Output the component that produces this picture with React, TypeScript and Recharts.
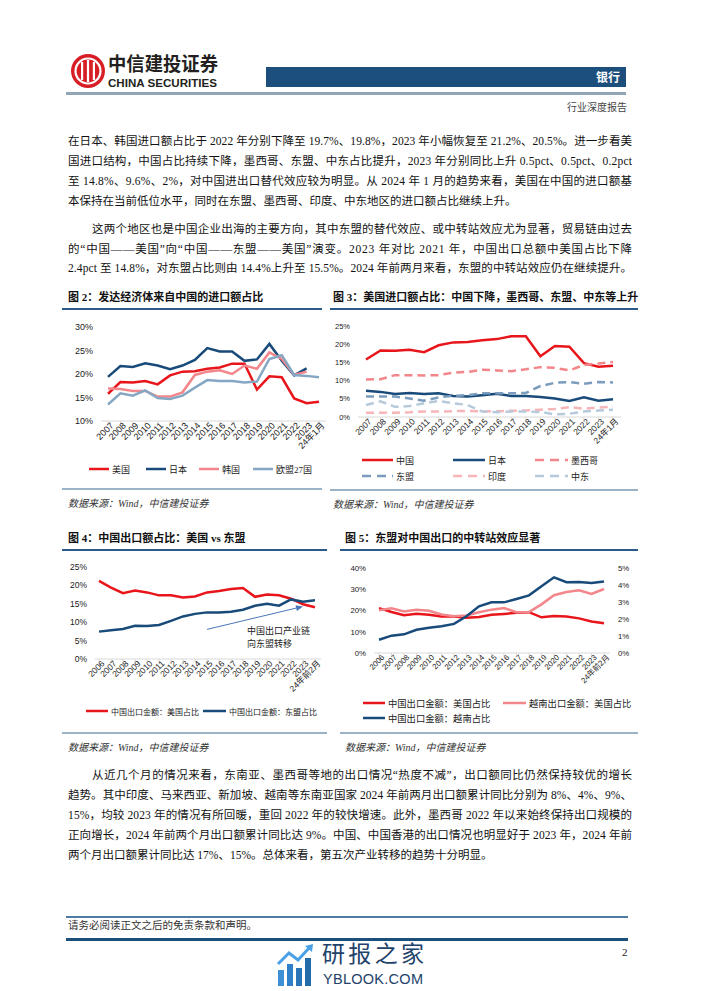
import { LineChart, Line, XAxis, YAxis, ReferenceLine } from 'recharts'

// ── Data ───────────────────────────────────────────────────────────────────────

const cats07 = ['2007','2008','2009','2010','2011','2012','2013','2014','2015','2016','2017','2018','2019','2020','2021','2022','2023','24年1月']
const cats06 = ['2006','2007','2008','2009','2010','2011','2012','2013','2014','2015','2016','2017','2018','2019','2020','2021','2022','2023','24年前2月']

// 图2 / 图3: share of imports coming from China (%)
const usFromChina = [15.8,18.3,18.2,18.5,17.8,19.7,20.5,20.6,21.1,21.4,22.2,22.2,16.7,19.5,19.3,14.8,13.8,14.1]
const jpFromChina = [19.4,21.7,21.5,22.3,21.8,21.0,21.8,23.0,25.5,24.8,24.8,22.8,23.1,26.4,22.8,19.7,21.2,null]
const krFromChina = [16.9,16.8,16.4,16.4,15.2,15.2,16.1,19.8,20.5,20.8,20.0,21.8,21.1,24.6,23.2,19.8,20.5,null]
const euFromChina = [13.5,15.9,15.4,16.5,14.9,14.7,15.4,17.1,18.7,18.5,18.5,18.2,18.4,23.2,24.0,19.8,19.6,19.3]

// 图3: US import shares by origin (%)
const usFromJapan  = [7.2,6.9,6.3,6.6,6.3,6.5,5.8,5.6,6.0,6.4,5.8,5.8,5.5,5.1,4.4,5.4,4.5,4.9]
const usFromMexico = [10.3,10.4,11.5,11.5,11.4,11.5,12.2,12.4,13.0,12.8,12.6,13.1,13.7,13.5,12.8,14.3,14.7,15.1]
const usFromAsean  = [5.6,5.6,5.6,5.1,4.5,5.4,5.8,6.0,6.5,6.5,6.5,6.6,8.5,9.4,9.6,9.1,9.6,9.5]
const usFromIndia  = [1.2,1.2,1.2,1.3,1.5,1.5,1.6,1.7,1.5,1.6,1.7,1.8,2.0,2.2,2.7,2.3,2.6,2.8]
const usFromMideast = [3.3,4.3,2.8,3.0,3.8,4.4,3.8,3.3,1.5,1.3,1.5,1.5,1.4,0.7,0.9,1.5,1.8,2.0]

// 图4 / 图5: China / Vietnam exports (%)
const cnExpUsShare    = [21.1,19.3,17.8,18.5,18.0,17.2,17.2,16.6,16.9,18.0,18.4,18.9,19.2,16.8,17.4,17.2,16.3,14.8,14.0]
const cnExpAseanShare = [7.4,7.8,8.1,9.0,8.9,9.2,10.3,11.5,12.2,12.6,12.6,12.8,13.3,14.4,14.9,14.4,16.1,15.5,15.9]
const vnExpUsShare    = [20.1,21.0,19.5,20.3,19.9,18.1,17.3,17.7,19.2,20.4,21.2,19.2,19.3,22.9,27.2,28.7,29.5,27.8,30.1]
const cnExpVnShare    = [0.78,1.02,1.10,1.37,1.49,1.57,1.71,2.16,2.75,2.98,2.98,3.18,3.39,3.92,4.45,4.16,4.18,4.12,4.20]

const fig2Ticks = [10, 15, 20, 25, 30]
const fig3Ticks = [0, 5, 10, 15, 20, 25]
const fig4Ticks = [0, 5, 10, 15, 20, 25]
const fig5LeftTicks = [0, 10, 20, 30, 40]
const fig5RightTicks = [0, 1, 2, 3, 4, 5]

const fig2Data = cats07.map((c, i) => ({ cat: c, us: usFromChina[i], jp: jpFromChina[i], kr: krFromChina[i], eu: euFromChina[i] }))
const fig3Data = cats07.map((c, i) => ({
  cat: c, cn: usFromChina[i], jp: usFromJapan[i], mx: usFromMexico[i],
  asean: usFromAsean[i], india: usFromIndia[i], me: usFromMideast[i],
}))
const fig4Data = cats06.map((c, i) => ({ cat: c, us: cnExpUsShare[i], asean: cnExpAseanShare[i] }))
const fig5Data = cats06.map((c, i) => ({ cat: c, cnus: cnExpUsShare[i], vnus: vnExpUsShare[i], cnvn: cnExpVnShare[i] }))

// ── Styles ─────────────────────────────────────────────────────────────────────

const SANS = '"Liberation Sans", Arial, "Noto Sans CJK SC", sans-serif'
const BODY = '"Liberation Serif", "Noto Sans CJK SC", serif'
const CJK = '"Noto Sans CJK SC", sans-serif'

const RED = '#e8151b'
const NAVY = '#184a7a'
const PINK = '#f3868b'
const GREYBLUE = '#86a7c3'
const ASEAN_C = '#7b9cbc'
const INDIA_C = '#f6b6b9'
const ME_C = '#b7cadc'
const RULE = '#2b5a88'
const SEP = '#9cb2c6'
const AXIS = '#d9d9d9'

const pct = (v: number) => `${v}%`

// ── Helpers ────────────────────────────────────────────────────────────────────

// eslint-disable-next-line @typescript-eslint/no-explicit-any
function RotTick({ x, y, payload, size }: any) {
  return (
    <g transform={`translate(${x + 4},${y - 2})`}>
      <text x={0} y={0} dy="0.35em" textAnchor="end" transform="rotate(-45)" fontSize={size} fill="#222" fontFamily={SANS}>
        {payload.value}
      </text>
    </g>
  )
}

// eslint-disable-next-line @typescript-eslint/no-explicit-any
function ArrowShape(props: any) {
  const { x1, y1, x2, y2, stroke } = props
  const ang = Math.atan2(y2 - y1, x2 - x1)
  const L = 7, W = 3
  const bx = x2 - L * Math.cos(ang), by = y2 - L * Math.sin(ang)
  const px = -Math.sin(ang) * W, py = Math.cos(ang) * W
  return (
    <g>
      <line x1={x1} y1={y1} x2={bx} y2={by} stroke={stroke} strokeWidth={1} />
      <polygon points={`${x2},${y2} ${bx + px},${by + py} ${bx - px},${by - py}`} fill={stroke} />
    </g>
  )
}

function TextLine({ x, y, w, text, justify = true, size = 11.5 }: { x: number; y: number; w: number; text: string; justify?: boolean; size?: number }) {
  return (
    <svg style={{ position: 'absolute', left: x, top: y - 10, overflow: 'visible' }} width={w} height={20}>
      <text
        x={0}
        y={10}
        dominantBaseline="central"
        fontSize={size}
        fontFamily={BODY}
        fill="#111"
        {...(justify ? { textLength: w, lengthAdjust: 'spacing' } : {})}
      >
        {text}
      </text>
    </svg>
  )
}

function Key({ x, y, color, label, dash, len = 20, size = 9 }: { x: number; y: number; color: string; label: string; dash?: string; len?: number; size?: number }) {
  return (
    <div style={{ position: 'absolute', left: x, top: y - 8, height: 16, display: 'flex', alignItems: 'center', whiteSpace: 'nowrap' }}>
      <svg width={len} height={6}>
        <line x1={0} y1={3} x2={len} y2={3} stroke={color} strokeWidth={2.5} strokeDasharray={dash} />
      </svg>
      <span style={{ marginLeft: 3, fontSize: size, fontFamily: BODY, color: '#222' }}>{label}</span>
    </div>
  )
}

function Title({ x, y, text, ruleX, ruleW }: { x: number; y: number; text: string; ruleX: number; ruleW: number }) {
  return (
    <>
      <div style={{ position: 'absolute', left: x, top: y - 8, fontSize: 11, fontWeight: 700, fontFamily: BODY, color: '#111', whiteSpace: 'nowrap', lineHeight: '16px' }}>
        {text}
      </div>
      <div style={{ position: 'absolute', left: ruleX, top: y + 11, width: ruleW, height: 1.5, background: RULE }} />
    </>
  )
}

function Source({ x, y, ruleX, ruleW }: { x: number; y: number; ruleX: number; ruleW: number }) {
  return (
    <>
      <div style={{ position: 'absolute', left: ruleX, top: y - 10, width: ruleW, height: 1.5, background: SEP }} />
      <div style={{ position: 'absolute', left: x, top: y - 1, fontSize: 10, fontStyle: 'italic', fontFamily: BODY, color: '#333', whiteSpace: 'nowrap', lineHeight: '14px' }}>
        数据来源：Wind，中信建投证券
      </div>
    </>
  )
}

// ── Page ───────────────────────────────────────────────────────────────────────

export default function App() {
  const L = 68
  const W = 564
  const IND = 24
  return (
    <div style={{ position: 'absolute', left: 0, top: 0, width: 702, height: 991, background: '#fff', overflow: 'hidden', fontFamily: BODY }}>
      {/* Header */}
      <svg style={{ position: 'absolute', left: 70, top: 53 }} width={36} height={36}>
        <circle cx={18} cy={18} r={17} fill="#d81e25" />
        <circle cx={18} cy={18} r={12.5} fill="none" stroke="#fff" strokeWidth={2.2} />
        <rect x={11} y={9} width={2.2} height={18} fill="#fff" />
        <rect x={16.9} y={7} width={2.2} height={22} fill="#fff" />
        <rect x={22.8} y={9} width={2.2} height={18} fill="#fff" />
      </svg>
      <svg style={{ position: 'absolute', left: 108, top: 52, overflow: 'visible' }} width={112} height={40}>
        <text x={0} y={19} fontSize={19} fontWeight={700} fontFamily={CJK} fill="#231f20" textLength={110} lengthAdjust="spacingAndGlyphs">中信建投证券</text>
        <text x={0} y={35} fontSize={11} fontWeight={700} fontFamily={SANS} fill="#231f20" textLength={109} lengthAdjust="spacingAndGlyphs">CHINA SECURITIES</text>
      </svg>
      <div style={{ position: 'absolute', left: 266, top: 67, width: 360, height: 20, background: '#1c4f7c' }} />
      <div style={{ position: 'absolute', left: 560, top: 67, width: 60, height: 20, lineHeight: '20px', textAlign: 'right', color: '#fff', fontFamily: CJK, fontWeight: 700, fontSize: 12 }}>银行</div>
      <div style={{ position: 'absolute', left: 66, top: 92, width: 560, height: 2.5, background: '#8fa5b8' }} />
      <div style={{ position: 'absolute', left: 527, top: 101, width: 100, textAlign: 'right', fontSize: 10, fontFamily: BODY, color: '#444', lineHeight: '14px' }}>行业深度报告</div>

      {/* Paragraph 1 */}
      <TextLine x={L} y={141} w={W} text="在日本、韩国进口额占比于 2022 年分别下降至 19.7%、19.8%，2023 年小幅恢复至 21.2%、20.5%。进一步看美" />
      <TextLine x={L} y={161} w={W} text="国进口结构，中国占比持续下降，墨西哥、东盟、中东占比提升，2023 年分别同比上升 0.5pct、0.5pct、0.2pct" />
      <TextLine x={L} y={181} w={W} text="至 14.8%、9.6%、2%，对中国进出口替代效应较为明显。从 2024 年 1 月的趋势来看，美国在中国的进口额基" />
      <TextLine x={L} y={201} w={W} justify={false} text="本保持在当前低位水平，同时在东盟、墨西哥、印度、中东地区的进口额占比继续上升。" />

      {/* Paragraph 2 */}
      <TextLine x={L + IND} y={229} w={W - IND} text="这两个地区也是中国企业出海的主要方向，其中东盟的替代效应、或中转站效应尤为显著，贸易链由过去" />
      <TextLine x={L} y={249} w={W} text="的“中国——美国”向“中国——东盟——美国”演变。2023 年对比 2021 年，中国出口总额中美国占比下降" />
      <TextLine x={L} y={268} w={W} text="2.4pct 至 14.8%，对东盟占比则由 14.4%上升至 15.5%。2024 年前两月来看，东盟的中转站效应仍在继续提升。" />

      {/* 图 2 */}
      <Title x={68} y={297} text="图 2：发达经济体来自中国的进口额占比" ruleX={62} ruleW={260} />
      <div style={{ position: 'absolute', left: 62, top: 320 }}>
        <LineChart width={272} height={141} data={fig2Data} margin={{ top: 7, right: 8, bottom: 0, left: 0 }}>
          <XAxis dataKey="cat" scale="point" padding={{ left: 7, right: 7 }} height={40} interval={0}
            axisLine={{ stroke: AXIS }} tickLine={{ stroke: AXIS }} tickSize={3}
            tick={(p: any) => <RotTick {...p} size={9} />} />
          <YAxis width={39} domain={[10, 30]} ticks={fig2Ticks} tickFormatter={pct} axisLine={false} tickLine={false}
            tick={{ fontSize: 9, fill: '#222', fontFamily: SANS }} />
          <Line dataKey="us" stroke={RED} strokeWidth={2.5} dot={false} isAnimationActive={false} />
          <Line dataKey="jp" stroke={NAVY} strokeWidth={2.5} dot={false} isAnimationActive={false} />
          <Line dataKey="kr" stroke={PINK} strokeWidth={2.5} dot={false} isAnimationActive={false} />
          <Line dataKey="eu" stroke={GREYBLUE} strokeWidth={2.5} dot={false} isAnimationActive={false} />
        </LineChart>
      </div>
      <Key x={89} y={469} color={RED} label="美国" />
      <Key x={146} y={469} color={NAVY} label="日本" />
      <Key x={199} y={469} color={PINK} label="韩国" />
      <Key x={253} y={469} color={GREYBLUE} label="欧盟27国" />
      <Source x={68} y={498} ruleX={62} ruleW={260} />

      {/* 图 3 */}
      <Title x={333} y={297} text="图 3：美国进口额占比：中国下降，墨西哥、东盟、中东等上升" ruleX={330} ruleW={308} />
      <div style={{ position: 'absolute', left: 330, top: 318 }}>
        <LineChart width={299} height={139} data={fig3Data} margin={{ top: 8, right: 8, bottom: 0, left: 0 }}>
          <XAxis dataKey="cat" scale="point" padding={{ left: 8, right: 8 }} height={40} interval={0}
            axisLine={{ stroke: AXIS }} tickLine={{ stroke: AXIS }} tickSize={3}
            tick={(p: any) => <RotTick {...p} size={8.5} />} />
          <YAxis width={28} domain={[0, 25]} ticks={fig3Ticks} tickFormatter={pct} axisLine={false} tickLine={false}
            tick={{ fontSize: 7.5, fill: '#222', fontFamily: SANS }} />
          <Line dataKey="cn" stroke={RED} strokeWidth={2.5} dot={false} isAnimationActive={false} />
          <Line dataKey="jp" stroke={NAVY} strokeWidth={2.5} dot={false} isAnimationActive={false} />
          <Line dataKey="mx" stroke={PINK} strokeWidth={2.5} strokeDasharray="8 5" dot={false} isAnimationActive={false} />
          <Line dataKey="asean" stroke={ASEAN_C} strokeWidth={2.5} strokeDasharray="8 5" dot={false} isAnimationActive={false} />
          <Line dataKey="india" stroke={INDIA_C} strokeWidth={2.5} strokeDasharray="8 5" dot={false} isAnimationActive={false} />
          <Line dataKey="me" stroke={ME_C} strokeWidth={2.5} strokeDasharray="8 5" dot={false} isAnimationActive={false} />
        </LineChart>
      </div>
      <Key x={362} y={460} color={RED} label="中国" len={31} />
      <Key x={453} y={460} color={NAVY} label="日本" len={32} />
      <Key x={535} y={460} color={PINK} label="墨西哥" len={33} dash="9 6" />
      <Key x={362} y={476} color={ASEAN_C} label="东盟" len={31} dash="9 6" />
      <Key x={453} y={476} color={INDIA_C} label="印度" len={32} dash="9 6" />
      <Key x={535} y={476} color={ME_C} label="中东" len={33} dash="9 6" />
      <Source x={333} y={499} ruleX={330} ruleW={308} />

      {/* 图 4 */}
      <Title x={68} y={538} text="图 4：中国出口额占比：美国 vs 东盟" ruleX={62} ruleW={265} />
      <div style={{ position: 'absolute', left: 62, top: 558 }}>
        <LineChart width={267} height={147} data={fig4Data} margin={{ top: 8.5, right: 8, bottom: 0, left: 0 }}>
          <XAxis dataKey="cat" scale="point" padding={{ left: 4, right: 6 }} height={46} interval={0}
            axisLine={{ stroke: AXIS }} tickLine={{ stroke: AXIS }} tickSize={3}
            tick={(p: any) => <RotTick {...p} size={8.5} />} />
          <YAxis width={33} domain={[0, 25]} ticks={fig4Ticks} tickFormatter={pct} axisLine={false} tickLine={false}
            tick={{ fontSize: 8.5, fill: '#222', fontFamily: SANS }} />
          <ReferenceLine segment={[{ x: '2015', y: 8 }, { x: '2023', y: 14.2 }]} stroke="#4a76b8" ifOverflow="visible" shape={ArrowShape} />
          <Line dataKey="us" stroke={RED} strokeWidth={2.5} dot={false} isAnimationActive={false} />
          <Line dataKey="asean" stroke={NAVY} strokeWidth={2.5} dot={false} isAnimationActive={false} />
        </LineChart>
      </div>
      <div style={{ position: 'absolute', left: 247, top: 625, fontSize: 9, lineHeight: '12.5px', fontFamily: BODY, color: '#222', whiteSpace: 'nowrap' }}>
        中国出口产业链<br />向东盟转移
      </div>
      <Key x={86} y={711} color={RED} label="中国出口金额：美国占比" len={22} size={8} />
      <Key x={203} y={711} color={NAVY} label="中国出口金额：东盟占比" len={23} size={8} />
      <Source x={68} y={742} ruleX={62} ruleW={265} />

      {/* 图 5 */}
      <Title x={345} y={538} text="图 5：东盟对中国出口的中转站效应显著" ruleX={340} ruleW={298} />
      <div style={{ position: 'absolute', left: 330, top: 560 }}>
        <LineChart width={304} height={143} data={fig5Data} margin={{ top: 8, right: 0, bottom: 0, left: 0 }}>
          <XAxis dataKey="cat" scale="point" padding={{ left: 5, right: 6 }} height={50} interval={0}
            axisLine={{ stroke: AXIS }} tickLine={{ stroke: AXIS }} tickSize={3}
            tick={(p: any) => <RotTick {...p} size={7.8} />} />
          <YAxis yAxisId="l" width={44} domain={[0, 40]} ticks={fig5LeftTicks} tickFormatter={pct} axisLine={false} tickLine={false}
            tick={{ fontSize: 7.8, fill: '#222', fontFamily: SANS }} />
          <YAxis yAxisId="r" orientation="right" width={24} domain={[0, 5]} ticks={fig5RightTicks} tickFormatter={pct} axisLine={false} tickLine={false}
            tick={{ fontSize: 7.8, fill: '#222', fontFamily: SANS }} />
          <Line yAxisId="l" dataKey="cnus" stroke={RED} strokeWidth={2.5} dot={false} isAnimationActive={false} />
          <Line yAxisId="l" dataKey="vnus" stroke={PINK} strokeWidth={2.5} dot={false} isAnimationActive={false} />
          <Line yAxisId="r" dataKey="cnvn" stroke={NAVY} strokeWidth={2.5} dot={false} isAnimationActive={false} />
        </LineChart>
      </div>
      <Key x={363} y={703} color={RED} label="中国出口金额：美国占比" len={22} size={9.3} />
      <Key x={503} y={703} color={PINK} label="越南出口金额：美国占比" len={23} size={9.3} />
      <Key x={363} y={718} color={NAVY} label="中国出口金额：越南占比" len={22} size={9.3} />
      <Source x={345} y={742} ruleX={340} ruleW={298} />

      {/* Paragraph 3 */}
      <TextLine x={L + IND} y={775} w={W - IND} text="从近几个月的情况来看，东南亚、墨西哥等地的出口情况“热度不减”，出口额同比仍然保持较优的增长" />
      <TextLine x={L} y={795} w={W} text="趋势。其中印度、马来西亚、新加坡、越南等东南亚国家 2024 年前两月出口额累计同比分别为 8%、4%、9%、" />
      <TextLine x={L} y={815} w={W} text="15%，均较 2023 年的情况有所回暖，重回 2022 年的较快增速。此外，墨西哥 2022 年以来始终保持出口规模的" />
      <TextLine x={L} y={835} w={W} text="正向增长，2024 年前两个月出口额累计同比达 9%。中国、中国香港的出口情况也明显好于 2023 年，2024 年前" />
      <TextLine x={L} y={855} w={W} justify={false} text="两个月出口额累计同比达 17%、15%。总体来看，第五次产业转移的趋势十分明显。" />

      {/* Footer */}
      <div style={{ position: 'absolute', left: 66, top: 916, width: 562, height: 1.5, background: '#4f7aa3' }} />
      <div style={{ position: 'absolute', left: 68, top: 919, fontSize: 10.5, fontFamily: BODY, color: '#333', lineHeight: '14px', whiteSpace: 'nowrap' }}>请务必阅读正文之后的免责条款和声明。</div>
      <div style={{ position: 'absolute', left: 66, top: 938, width: 562, height: 3, background: '#1c4f7c' }} />
      <div style={{ position: 'absolute', left: 622, top: 945, fontSize: 11, fontFamily: BODY, color: '#222', lineHeight: '14px' }}>2</div>

      {/* Watermark */}
      <svg style={{ position: 'absolute', left: 276, top: 944 }} width={40} height={44}>
        <rect x={2} y={26} width={6} height={16} fill="#3d8fd6" />
        <rect x={11} y={20} width={6} height={22} fill="#2f80c9" />
        <rect x={20} y={24} width={6} height={18} fill="#2a74b8" />
        <rect x={29} y={14} width={6} height={28} fill="#256aa8" />
        <polyline points="2,20 13,9 22,16 34,3" fill="none" stroke="#4aa0e6" strokeWidth={3} />
        <polygon points="37,0 29,2 36,8" fill="#4aa0e6" />
      </svg>
      <svg style={{ position: 'absolute', left: 322, top: 940, overflow: 'visible' }} width={104} height={48}>
        <text x={0} y={22} fontSize={23} fontFamily={CJK} fill="#22426a" textLength={102} lengthAdjust="spacing">研报之家</text>
        <text x={1} y={44} fontSize={14.5} fontFamily={SANS} fill="#22426a" textLength={100} lengthAdjust="spacing">YBLOOK.COM</text>
      </svg>
    </div>
  )
}
